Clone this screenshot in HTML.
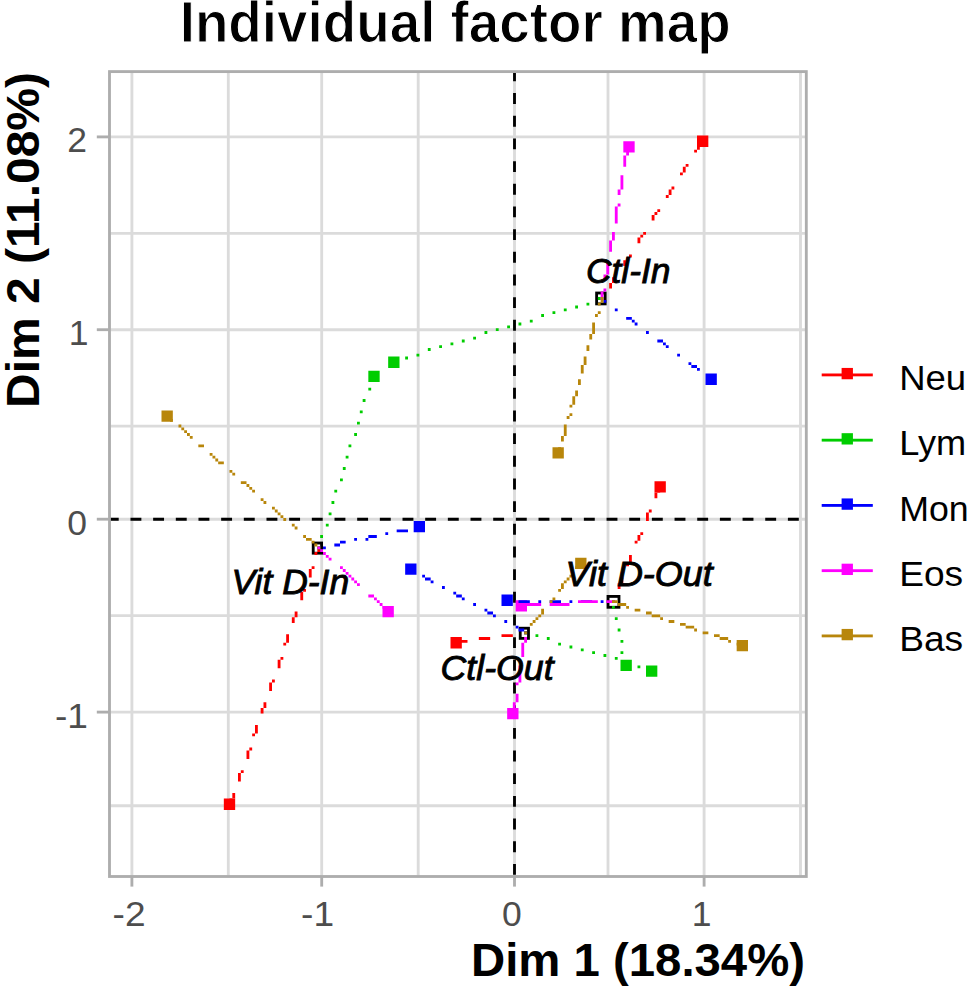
<!DOCTYPE html>
<html lang="en"><head><meta charset="utf-8"><title>Individual factor map</title>
<style>
html,body{margin:0;padding:0;background:#fff;}
body{width:968px;height:989px;overflow:hidden;}
svg{display:block;}
text{font-family:"Liberation Sans",Arial,Helvetica,sans-serif;}
.t{font-weight:bold;fill:#000;stroke:#fff;stroke-width:1.1px;}
.t2{font-weight:bold;fill:#000;}
.tk{fill:#4d4d4d;font-size:35.5px;}
.lg{fill:#000;font-size:35.5px;}
.lb{fill:#000;font-style:italic;font-size:35px;stroke:#000;stroke-width:0.9px;}
</style></head><body>
<svg width="968" height="989" viewBox="0 0 968 989">
<rect width="968" height="989" fill="#fff"/>
<g stroke="#dbdbdb" stroke-width="2.85" fill="none">
<line x1="131.9" y1="71.6" x2="131.9" y2="876.5"/>
<line x1="228.3" y1="71.6" x2="228.3" y2="876.5"/>
<line x1="321.7" y1="71.6" x2="321.7" y2="876.5"/>
<line x1="418.2" y1="71.6" x2="418.2" y2="876.5"/>
<line x1="608" y1="71.6" x2="608" y2="876.5"/>
<line x1="704.1" y1="71.6" x2="704.1" y2="876.5"/>
<line x1="800.5" y1="71.6" x2="800.5" y2="876.5"/>
<line x1="109.5" y1="136.9" x2="806.3" y2="136.9"/>
<line x1="109.5" y1="233.3" x2="806.3" y2="233.3"/>
<line x1="109.5" y1="329.7" x2="806.3" y2="329.7"/>
<line x1="109.5" y1="426.1" x2="806.3" y2="426.1"/>
<line x1="109.5" y1="615.6" x2="806.3" y2="615.6"/>
<line x1="109.5" y1="712.1" x2="806.3" y2="712.1"/>
<line x1="109.5" y1="805.7" x2="806.3" y2="805.7"/>
<line x1="514.5" y1="71.6" x2="514.5" y2="876.5"/>
<line x1="109.5" y1="519.2" x2="806.3" y2="519.2"/>
</g>
<g stroke="#000" stroke-width="2.85" fill="none" stroke-dasharray="10.9 11.77">
<line x1="109.5" y1="519.2" x2="806.3" y2="519.2" stroke-dashoffset="1.7"/>
<line x1="514.5" y1="876.5" x2="514.5" y2="71.6" stroke-dashoffset="-1.7"/>
</g>
<g fill="none" stroke="#000" stroke-width="2.83">
<rect x="596.62" y="293.02" width="8.57" height="10.87"/>
<rect x="313.22" y="543.02" width="8.37" height="10.17"/>
<rect x="520.22" y="628.22" width="8.27" height="10.17"/>
<rect x="608.02" y="596.42" width="10.97" height="10.87"/>
</g>
<path fill="#FF0000" d="M697 135.6h11.33v11.33h-11.33zM223.83 798.6h11.33v11.33h-11.33zM450.5 637.1h11.33v11.33h-11.33zM654.5 481.27h11.33v11.33h-11.33z"/>
<path fill="#00CD00" d="M388.17 356.6h11.33v11.33h-11.33zM368.33 370.77h11.33v11.33h-11.33zM646 665.43h11.33v11.33h-11.33zM620.5 659.77h11.33v11.33h-11.33z"/>
<path fill="#0000FF" d="M705.5 373.6h11.33v11.33h-11.33zM413.67 520.93h11.33v11.33h-11.33zM405.17 563.43h11.33v11.33h-11.33zM501.5 594.6h11.33v11.33h-11.33z"/>
<path fill="#FF00FF" d="M623.33 141.27h11.33v11.33h-11.33zM382.5 605.93h11.33v11.33h-11.33zM507.17 707.93h11.33v11.33h-11.33zM515.67 600.27h11.33v11.33h-11.33z"/>
<path fill="#B8860B" d="M552.5 447.27h11.33v11.33h-11.33zM161.5 410.43h11.33v11.33h-11.33zM575.17 557.77h11.33v11.33h-11.33zM736.67 639.93h11.33v11.33h-11.33z"/>
<path fill="#FF0000" d="M699.83 141.27h2.83v2.83h-2.83zM697 144.1h2.83v2.83h-2.83zM697 146.93h2.83v2.83h-2.83zM694.17 149.77h2.83v2.83h-2.83zM685.67 163.93h2.83v2.83h-2.83zM682.83 166.77h2.83v2.83h-2.83zM682.83 169.6h2.83v2.83h-2.83zM680 172.43h2.83v2.83h-2.83zM671.5 186.6h2.83v2.83h-2.83zM668.67 189.43h2.83v2.83h-2.83zM668.67 192.27h2.83v2.83h-2.83zM665.83 195.1h2.83v2.83h-2.83zM657.33 209.27h2.83v2.83h-2.83zM654.5 212.1h2.83v2.83h-2.83zM651.67 214.93h2.83v2.83h-2.83zM651.67 217.77h2.83v2.83h-2.83zM643.17 231.93h2.83v2.83h-2.83zM640.33 234.77h2.83v2.83h-2.83zM637.5 237.6h2.83v2.83h-2.83zM637.5 240.43h2.83v2.83h-2.83zM629 254.6h2.83v2.83h-2.83zM626.17 257.43h2.83v2.83h-2.83zM623.33 260.27h2.83v2.83h-2.83zM623.33 263.1h2.83v2.83h-2.83zM612 277.27h2.83v2.83h-2.83zM612 280.1h2.83v2.83h-2.83zM609.17 282.93h2.83v2.83h-2.83zM609.17 285.77h2.83v2.83h-2.83zM657.33 486.93h2.83v2.83h-2.83zM657.33 489.77h2.83v2.83h-2.83zM654.5 492.6h2.83v2.83h-2.83zM654.5 495.43h2.83v2.83h-2.83zM648.83 509.6h2.83v2.83h-2.83zM646 512.43h2.83v2.83h-2.83zM646 515.27h2.83v2.83h-2.83zM646 518.1h2.83v2.83h-2.83zM640.33 532.27h2.83v2.83h-2.83zM637.5 535.1h2.83v2.83h-2.83zM637.5 537.93h2.83v2.83h-2.83zM634.67 540.77h2.83v2.83h-2.83zM317.33 546.43h2.83v2.83h-2.83zM317.33 549.27h2.83v2.83h-2.83zM314.5 552.1h2.83v2.83h-2.83zM629 554.93h2.83v2.83h-2.83zM629 557.77h2.83v2.83h-2.83zM629 560.6h2.83v2.83h-2.83zM626.17 563.43h2.83v2.83h-2.83zM311.67 566.27h2.83v2.83h-2.83zM308.83 569.1h2.83v2.83h-2.83zM308.83 571.93h2.83v2.83h-2.83zM308.83 574.77h2.83v2.83h-2.83zM620.5 577.6h2.83v2.83h-2.83zM620.5 580.43h2.83v2.83h-2.83zM617.67 583.27h2.83v2.83h-2.83zM617.67 586.1h2.83v2.83h-2.83zM303.17 588.93h2.83v2.83h-2.83zM300.33 591.77h2.83v2.83h-2.83zM300.33 594.6h2.83v2.83h-2.83zM300.33 597.43h2.83v2.83h-2.83zM612 600.27h2.83v2.83h-2.83zM294.67 611.6h2.83v2.83h-2.83zM294.67 614.43h2.83v2.83h-2.83zM291.83 617.27h2.83v2.83h-2.83zM291.83 620.1h2.83v2.83h-2.83zM524.17 631.43h2.83v2.83h-2.83zM286.17 634.27h2.83v2.83h-2.83zM501.5 634.27h11.33v2.83h-11.33zM286.17 637.1h2.83v2.83h-2.83zM478.83 637.1h11.33v2.83h-11.33zM286.17 639.93h2.83v2.83h-2.83zM456.17 639.93h11.33v2.83h-11.33zM283.33 642.77h2.83v2.83h-2.83zM280.5 656.93h2.83v2.83h-2.83zM277.67 659.77h2.83v2.83h-2.83zM277.67 662.6h2.83v2.83h-2.83zM277.67 665.43h2.83v2.83h-2.83zM272 679.6h2.83v2.83h-2.83zM269.17 682.43h2.83v2.83h-2.83zM269.17 685.27h2.83v2.83h-2.83zM269.17 688.1h2.83v2.83h-2.83zM263.5 702.27h2.83v2.83h-2.83zM263.5 705.1h2.83v2.83h-2.83zM260.67 707.93h2.83v2.83h-2.83zM260.67 710.77h2.83v2.83h-2.83zM255 724.93h2.83v2.83h-2.83zM255 727.77h2.83v2.83h-2.83zM255 730.6h2.83v2.83h-2.83zM252.17 733.43h2.83v2.83h-2.83zM249.33 747.6h2.83v2.83h-2.83zM246.5 750.43h2.83v2.83h-2.83zM246.5 753.27h2.83v2.83h-2.83zM246.5 756.1h2.83v2.83h-2.83zM240.83 770.27h2.83v2.83h-2.83zM238 773.1h2.83v2.83h-2.83zM238 775.93h2.83v2.83h-2.83zM238 778.77h2.83v2.83h-2.83zM232.33 792.93h2.83v2.83h-2.83zM232.33 795.77h2.83v2.83h-2.83zM229.5 798.6h2.83v2.83h-2.83zM229.5 801.43h2.83v2.83h-2.83z"/>
<path fill="#00CD00" d="M597.83 297.1h2.83v2.83h-2.83zM586.5 302.77h2.83v2.83h-2.83zM575.17 305.6h2.83v2.83h-2.83zM563.83 308.43h2.83v2.83h-2.83zM552.5 311.27h2.83v2.83h-2.83zM541.17 314.1h2.83v2.83h-2.83zM529.83 319.77h2.83v2.83h-2.83zM518.5 322.6h2.83v2.83h-2.83zM507.17 325.43h2.83v2.83h-2.83zM495.83 328.27h2.83v2.83h-2.83zM484.5 331.1h2.83v2.83h-2.83zM473.17 336.77h2.83v2.83h-2.83zM461.83 339.6h2.83v2.83h-2.83zM450.5 342.43h2.83v2.83h-2.83zM439.17 345.27h2.83v2.83h-2.83zM427.83 348.1h2.83v2.83h-2.83zM416.5 353.77h2.83v2.83h-2.83zM405.17 356.6h2.83v2.83h-2.83zM393.83 359.43h2.83v2.83h-2.83zM371.17 376.43h2.83v2.83h-2.83zM368.33 387.77h2.83v2.83h-2.83zM362.67 399.1h2.83v2.83h-2.83zM359.83 410.43h2.83v2.83h-2.83zM357 421.77h2.83v2.83h-2.83zM354.17 433.1h2.83v2.83h-2.83zM348.5 444.43h2.83v2.83h-2.83zM345.67 455.77h2.83v2.83h-2.83zM342.83 467.1h2.83v2.83h-2.83zM340 478.43h2.83v2.83h-2.83zM334.33 489.77h2.83v2.83h-2.83zM331.5 501.1h2.83v2.83h-2.83zM328.67 512.43h2.83v2.83h-2.83zM325.83 523.77h2.83v2.83h-2.83zM320.17 535.1h2.83v2.83h-2.83zM317.33 546.43h2.83v2.83h-2.83zM612 605.93h2.83v2.83h-2.83zM614.83 617.27h2.83v2.83h-2.83zM617.67 628.6h2.83v2.83h-2.83zM524.17 631.43h2.83v2.83h-2.83zM535.5 634.27h2.83v2.83h-2.83zM546.83 637.1h2.83v2.83h-2.83zM620.5 639.93h2.83v2.83h-2.83zM558.17 642.77h2.83v2.83h-2.83zM569.5 645.6h2.83v2.83h-2.83zM580.83 648.43h2.83v2.83h-2.83zM592.17 651.27h2.83v2.83h-2.83zM620.5 651.27h2.83v2.83h-2.83zM603.5 654.1h2.83v2.83h-2.83zM614.83 656.93h2.83v2.83h-2.83zM623.33 662.6h5.67v2.83h-5.67zM637.5 665.43h2.83v2.83h-2.83zM648.83 668.27h2.83v2.83h-2.83z"/>
<path fill="#0000FF" d="M600.67 297.1h2.83v2.83h-2.83zM603.5 299.93h2.83v2.83h-2.83zM614.83 308.43h2.83v2.83h-2.83zM626.17 316.93h5.67v2.83h-5.67zM631.83 319.77h2.83v2.83h-2.83zM634.67 322.6h2.83v2.83h-2.83zM646 331.1h2.83v2.83h-2.83zM657.33 339.6h5.67v2.83h-5.67zM663 342.43h2.83v2.83h-2.83zM665.83 345.27h2.83v2.83h-2.83zM677.17 353.77h2.83v2.83h-2.83zM688.5 362.27h2.83v2.83h-2.83zM691.33 365.1h5.67v2.83h-5.67zM697 367.93h2.83v2.83h-2.83zM708.33 376.43h2.83v2.83h-2.83zM416.5 526.6h2.83v2.83h-2.83zM396.67 529.43h11.33v2.83h-11.33zM385.33 532.27h2.83v2.83h-2.83zM368.33 535.1h8.5v2.83h-8.5zM354.17 537.93h2.83v2.83h-2.83zM365.5 537.93h2.83v2.83h-2.83zM340 540.77h5.67v2.83h-5.67zM334.33 543.6h5.67v2.83h-5.67zM323 546.43h2.83v2.83h-2.83zM410.83 569.1h2.83v2.83h-2.83zM422.17 574.77h2.83v2.83h-2.83zM425 577.6h5.67v2.83h-5.67zM430.67 580.43h2.83v2.83h-2.83zM442 586.1h2.83v2.83h-2.83zM453.33 591.77h2.83v2.83h-2.83zM456.17 594.6h5.67v2.83h-5.67zM461.83 597.43h2.83v2.83h-2.83zM507.17 600.27h2.83v2.83h-2.83zM518.5 600.27h11.33v2.83h-11.33zM538.33 600.27h2.83v2.83h-2.83zM549.67 600.27h11.33v2.83h-11.33zM569.5 600.27h2.83v2.83h-2.83zM580.83 600.27h11.33v2.83h-11.33zM600.67 600.27h2.83v2.83h-2.83zM612 600.27h2.83v2.83h-2.83zM473.17 603.1h2.83v2.83h-2.83zM484.5 608.77h2.83v2.83h-2.83zM487.33 611.6h5.67v2.83h-5.67zM493 614.43h2.83v2.83h-2.83zM504.33 620.1h2.83v2.83h-2.83zM515.67 625.77h2.83v2.83h-2.83zM518.5 628.6h5.67v2.83h-5.67zM524.17 631.43h2.83v2.83h-2.83z"/>
<path fill="#FF00FF" d="M626.17 146.93h2.83v2.83h-2.83zM626.17 149.77h2.83v2.83h-2.83zM626.17 152.6h2.83v2.83h-2.83zM623.33 155.43h2.83v2.83h-2.83zM623.33 158.27h2.83v2.83h-2.83zM623.33 161.1h2.83v2.83h-2.83zM623.33 163.93h2.83v2.83h-2.83zM620.5 175.27h2.83v2.83h-2.83zM620.5 178.1h2.83v2.83h-2.83zM620.5 180.93h2.83v2.83h-2.83zM620.5 183.77h2.83v2.83h-2.83zM620.5 186.6h2.83v2.83h-2.83zM617.67 189.43h2.83v2.83h-2.83zM617.67 192.27h2.83v2.83h-2.83zM617.67 203.6h2.83v2.83h-2.83zM614.83 206.43h2.83v2.83h-2.83zM614.83 209.27h2.83v2.83h-2.83zM614.83 212.1h2.83v2.83h-2.83zM614.83 214.93h2.83v2.83h-2.83zM614.83 217.77h2.83v2.83h-2.83zM614.83 220.6h2.83v2.83h-2.83zM612 231.93h2.83v2.83h-2.83zM612 234.77h2.83v2.83h-2.83zM612 237.6h2.83v2.83h-2.83zM609.17 240.43h2.83v2.83h-2.83zM609.17 243.27h2.83v2.83h-2.83zM609.17 246.1h2.83v2.83h-2.83zM609.17 248.93h2.83v2.83h-2.83zM606.33 260.27h2.83v2.83h-2.83zM606.33 263.1h2.83v2.83h-2.83zM606.33 265.93h2.83v2.83h-2.83zM606.33 268.77h2.83v2.83h-2.83zM606.33 271.6h2.83v2.83h-2.83zM603.5 274.43h2.83v2.83h-2.83zM603.5 277.27h2.83v2.83h-2.83zM603.5 288.6h2.83v2.83h-2.83zM600.67 291.43h2.83v2.83h-2.83zM600.67 294.27h2.83v2.83h-2.83zM600.67 297.1h2.83v2.83h-2.83zM317.33 546.43h2.83v2.83h-2.83zM320.17 549.27h2.83v2.83h-2.83zM323 552.1h2.83v2.83h-2.83zM325.83 554.93h2.83v2.83h-2.83zM328.67 557.77h2.83v2.83h-2.83zM340 566.27h2.83v2.83h-2.83zM342.83 569.1h2.83v2.83h-2.83zM345.67 571.93h2.83v2.83h-2.83zM348.5 574.77h2.83v2.83h-2.83zM351.33 577.6h2.83v2.83h-2.83zM354.17 580.43h2.83v2.83h-2.83zM357 583.27h2.83v2.83h-2.83zM368.33 594.6h5.67v2.83h-5.67zM374 597.43h2.83v2.83h-2.83zM376.83 600.27h2.83v2.83h-2.83zM578 600.27h19.83v2.83h-19.83zM606.33 600.27h8.5v2.83h-8.5zM379.67 603.1h2.83v2.83h-2.83zM521.33 603.1h19.83v2.83h-19.83zM549.67 603.1h19.83v2.83h-19.83zM382.5 605.93h2.83v2.83h-2.83zM385.33 608.77h2.83v2.83h-2.83zM524.17 637.1h2.83v2.83h-2.83zM524.17 639.93h2.83v2.83h-2.83zM521.33 642.77h2.83v2.83h-2.83zM521.33 645.6h2.83v2.83h-2.83zM521.33 648.43h2.83v2.83h-2.83zM521.33 651.27h2.83v2.83h-2.83zM521.33 654.1h2.83v2.83h-2.83zM518.5 665.43h2.83v2.83h-2.83zM518.5 668.27h2.83v2.83h-2.83zM518.5 671.1h2.83v2.83h-2.83zM518.5 673.93h2.83v2.83h-2.83zM518.5 676.77h2.83v2.83h-2.83zM518.5 679.6h2.83v2.83h-2.83zM515.67 682.43h2.83v2.83h-2.83zM515.67 693.77h2.83v2.83h-2.83zM515.67 696.6h2.83v2.83h-2.83zM515.67 699.43h2.83v2.83h-2.83zM512.83 702.27h2.83v2.83h-2.83zM512.83 705.1h2.83v2.83h-2.83zM512.83 707.93h2.83v2.83h-2.83zM512.83 710.77h2.83v2.83h-2.83z"/>
<path fill="#B8860B" d="M600.67 297.1h2.83v2.83h-2.83zM600.67 299.93h2.83v2.83h-2.83zM597.83 302.77h2.83v2.83h-2.83zM597.83 311.27h2.83v2.83h-2.83zM595 314.1h2.83v2.83h-2.83zM592.17 322.6h2.83v2.83h-2.83zM592.17 325.43h2.83v2.83h-2.83zM592.17 328.27h2.83v2.83h-2.83zM592.17 331.1h2.83v2.83h-2.83zM589.33 333.93h2.83v2.83h-2.83zM589.33 336.77h2.83v2.83h-2.83zM586.5 345.27h2.83v2.83h-2.83zM586.5 348.1h2.83v2.83h-2.83zM583.67 356.6h2.83v2.83h-2.83zM583.67 359.43h2.83v2.83h-2.83zM583.67 362.27h2.83v2.83h-2.83zM580.83 365.1h2.83v2.83h-2.83zM580.83 367.93h2.83v2.83h-2.83zM580.83 370.77h2.83v2.83h-2.83zM578 379.27h2.83v2.83h-2.83zM578 382.1h2.83v2.83h-2.83zM575.17 390.6h2.83v2.83h-2.83zM575.17 393.43h2.83v2.83h-2.83zM572.33 396.27h2.83v2.83h-2.83zM572.33 399.1h2.83v2.83h-2.83zM572.33 401.93h2.83v2.83h-2.83zM569.5 404.77h2.83v2.83h-2.83zM569.5 413.27h2.83v2.83h-2.83zM167.17 416.1h2.83v2.83h-2.83zM566.67 416.1h2.83v2.83h-2.83zM170 418.93h2.83v2.83h-2.83zM178.5 424.6h2.83v2.83h-2.83zM563.83 424.6h2.83v2.83h-2.83zM181.33 427.43h2.83v2.83h-2.83zM563.83 427.43h2.83v2.83h-2.83zM184.17 430.27h2.83v2.83h-2.83zM563.83 430.27h2.83v2.83h-2.83zM187 433.1h2.83v2.83h-2.83zM563.83 433.1h2.83v2.83h-2.83zM189.83 435.93h2.83v2.83h-2.83zM561 435.93h2.83v2.83h-2.83zM561 438.77h2.83v2.83h-2.83zM198.33 444.43h5.67v2.83h-5.67zM558.17 447.27h2.83v2.83h-2.83zM558.17 450.1h2.83v2.83h-2.83zM209.67 452.93h2.83v2.83h-2.83zM212.5 455.77h2.83v2.83h-2.83zM215.33 458.6h2.83v2.83h-2.83zM218.17 461.43h5.67v2.83h-5.67zM229.5 469.93h2.83v2.83h-2.83zM232.33 472.77h2.83v2.83h-2.83zM240.83 481.27h5.67v2.83h-5.67zM246.5 484.1h2.83v2.83h-2.83zM249.33 486.93h2.83v2.83h-2.83zM252.17 489.77h2.83v2.83h-2.83zM260.67 498.27h2.83v2.83h-2.83zM263.5 501.1h2.83v2.83h-2.83zM272 506.77h2.83v2.83h-2.83zM274.83 509.6h2.83v2.83h-2.83zM277.67 512.43h2.83v2.83h-2.83zM280.5 515.27h2.83v2.83h-2.83zM283.33 518.1h2.83v2.83h-2.83zM291.83 523.77h2.83v2.83h-2.83zM294.67 526.6h2.83v2.83h-2.83zM303.17 535.1h2.83v2.83h-2.83zM306 537.93h5.67v2.83h-5.67zM311.67 540.77h2.83v2.83h-2.83zM314.5 543.6h2.83v2.83h-2.83zM578 563.43h2.83v2.83h-2.83zM575.17 566.27h2.83v2.83h-2.83zM569.5 574.77h2.83v2.83h-2.83zM566.67 577.6h2.83v2.83h-2.83zM563.83 580.43h2.83v2.83h-2.83zM561 583.27h2.83v2.83h-2.83zM561 586.1h2.83v2.83h-2.83zM558.17 588.93h2.83v2.83h-2.83zM552.5 597.43h2.83v2.83h-2.83zM549.67 600.27h2.83v2.83h-2.83zM612 600.27h5.67v2.83h-5.67zM617.67 603.1h8.5v2.83h-8.5zM626.17 605.93h2.83v2.83h-2.83zM541.17 608.77h2.83v2.83h-2.83zM634.67 608.77h5.67v2.83h-5.67zM541.17 611.6h2.83v2.83h-2.83zM646 611.6h5.67v2.83h-5.67zM538.33 614.43h2.83v2.83h-2.83zM651.67 614.43h8.5v2.83h-8.5zM535.5 617.27h2.83v2.83h-2.83zM660.17 617.27h2.83v2.83h-2.83zM532.67 620.1h2.83v2.83h-2.83zM668.67 620.1h5.67v2.83h-5.67zM529.83 622.93h2.83v2.83h-2.83zM680 622.93h5.67v2.83h-5.67zM685.67 625.77h8.5v2.83h-8.5zM694.17 628.6h2.83v2.83h-2.83zM524.17 631.43h2.83v2.83h-2.83zM702.67 631.43h5.67v2.83h-5.67zM714 634.27h5.67v2.83h-5.67zM719.67 637.1h8.5v2.83h-8.5zM728.17 639.93h2.83v2.83h-2.83zM736.67 642.77h5.67v2.83h-5.67z"/>
<g stroke="#adadad" stroke-width="2.85" fill="none">
<rect x="109.5" y="71.6" width="696.8" height="804.9"/>
<line x1="131.9" y1="876.5" x2="131.9" y2="886.6"/>
<line x1="321.7" y1="876.5" x2="321.7" y2="886.6"/>
<line x1="514.5" y1="876.5" x2="514.5" y2="886.6"/>
<line x1="704.1" y1="876.5" x2="704.1" y2="886.6"/>
<line x1="96.8" y1="136.9" x2="109.5" y2="136.9"/>
<line x1="96.8" y1="329.7" x2="109.5" y2="329.7"/>
<line x1="96.8" y1="519.2" x2="109.5" y2="519.2"/>
<line x1="96.8" y1="712.1" x2="109.5" y2="712.1"/>
</g>
<text class="tk" x="129.1" y="925.8" text-anchor="middle" textLength="33" lengthAdjust="spacingAndGlyphs">-2</text>
<text class="tk" x="317.6" y="925.8" text-anchor="middle" textLength="33" lengthAdjust="spacingAndGlyphs">-1</text>
<text class="tk" x="511.8" y="925.8" text-anchor="middle">0</text>
<text class="tk" x="701.6" y="925.8" text-anchor="middle">1</text>
<text class="tk" x="87" y="152.3" text-anchor="end">2</text>
<text class="tk" x="88.6" y="345.1" text-anchor="end">1</text>
<text class="tk" x="87" y="534.6" text-anchor="end">0</text>
<text class="tk" x="88" y="727.5" text-anchor="end" textLength="33" lengthAdjust="spacingAndGlyphs">-1</text>
<text class="t" x="455.2" y="41.9" font-size="57" text-anchor="middle" textLength="551" lengthAdjust="spacingAndGlyphs">Individual factor map</text>
<text class="t2" x="805.0" y="975.9" font-size="47" text-anchor="end" textLength="334" lengthAdjust="spacingAndGlyphs">Dim 1 (18.34%)</text>
<text class="t2" transform="translate(39.4 408.0) rotate(-90)" font-size="47" textLength="336" lengthAdjust="spacingAndGlyphs">Dim 2 (11.08%)</text>
<rect x="821.7" y="373.5" width="51.1" height="2.83" fill="#FF0000"/>
<rect x="841.6" y="367.93" width="11.33" height="11.33" fill="#FF0000"/>
<text class="lg" x="899.2" y="390.2" textLength="67" lengthAdjust="spacingAndGlyphs">Neu</text>
<rect x="821.7" y="438.75" width="51.1" height="2.83" fill="#00CD00"/>
<rect x="841.6" y="433.18" width="11.33" height="11.33" fill="#00CD00"/>
<text class="lg" x="899.2" y="455.45" textLength="67" lengthAdjust="spacingAndGlyphs">Lym</text>
<rect x="821.7" y="504" width="51.1" height="2.83" fill="#0000FF"/>
<rect x="841.6" y="498.43" width="11.33" height="11.33" fill="#0000FF"/>
<text class="lg" x="899.2" y="520.7" textLength="69.5" lengthAdjust="spacingAndGlyphs">Mon</text>
<rect x="821.7" y="569.25" width="51.1" height="2.83" fill="#FF00FF"/>
<rect x="841.6" y="563.68" width="11.33" height="11.33" fill="#FF00FF"/>
<text class="lg" x="899.2" y="585.95" textLength="64" lengthAdjust="spacingAndGlyphs">Eos</text>
<rect x="821.7" y="634.5" width="51.1" height="2.83" fill="#B8860B"/>
<rect x="841.6" y="628.93" width="11.33" height="11.33" fill="#B8860B"/>
<text class="lg" x="899.2" y="651.2" textLength="64" lengthAdjust="spacingAndGlyphs">Bas</text>
<text class="lb" x="586" y="282.6" textLength="84.5" lengthAdjust="spacingAndGlyphs">Ctl-In</text>
<text class="lb" x="231.6" y="594.3" textLength="117.5" lengthAdjust="spacingAndGlyphs">Vit D-In</text>
<text class="lb" x="440.6" y="679.5" textLength="113" lengthAdjust="spacingAndGlyphs">Ctl-Out</text>
<text class="lb" x="565.6" y="585.9" textLength="147.2" lengthAdjust="spacingAndGlyphs">Vit D-Out</text>
</svg>
</body></html>
